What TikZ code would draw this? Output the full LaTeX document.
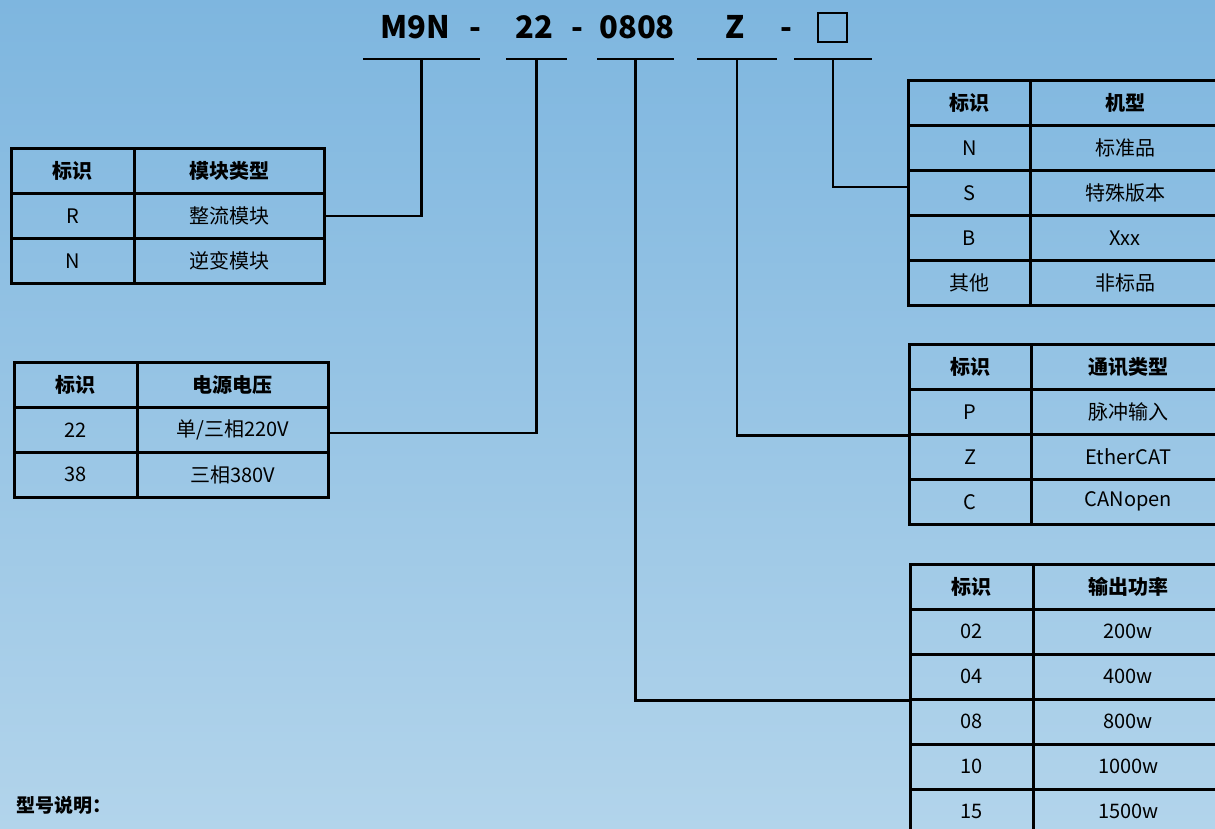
\documentclass[tikz,border=0pt]{standalone}
\usepackage{fontspec}
\setmainfont{Noto Sans CJK SC}
\definecolor{bgtop}{RGB}{126,182,223}
\definecolor{bgbot}{RGB}{178,212,235}

\def\rowh{45}

\begin{document}
\begin{tikzpicture}[
    x=1pt,y=-1pt,
    cell/.style={draw=black,line width=2.6pt,minimum height=\rowh,inner sep=0pt,
                 anchor=north west,font=\fontsize{20}{20}\selectfont},
    head/.style={cell,font=\fontsize{20}{20}\selectfont\bfseries},
    code/.style={font=\fontsize{31}{31}\selectfont\bfseries,inner sep=0pt,anchor=base},
    bar/.style={line width=2.6pt},
    link/.style={line width=2.4pt},
]
\useasboundingbox (0,0) rectangle (1215,828);
\shade[top color=bgtop,bottom color=bgbot] (0,0) rectangle (1215,828);

% model code
\node[code] (series) at (415,38) {M9N};
\node[code] (dash1) at (475,38) {-};
\node[code] (volt) at (534,38) {22};
\node[code] (dash2) at (577,38) {-};
\node[code] (power) at (637,38) {0808};
\node[code] (bus) at (735,38) {Z};
\node[code] (dash3) at (786,38) {-};
\node[draw,line width=2pt,minimum size=29,inner sep=0pt] (custom) at (832,27) {};

\draw[bar] (363,59) -- coordinate[pos=0.5] (u-series) (480,59);
\draw[bar] (506,59) -- coordinate[pos=0.5] (u-volt) (567,59);
\draw[bar] (597,59) -- coordinate[pos=0.5] (u-power) (674,59);
\draw[bar] (697,59) -- coordinate[pos=0.5] (u-bus) (777,59);
\draw[bar] (794,59) -- coordinate[pos=0.5] (u-custom) (872,59);

% module type
\node[head,minimum width=123] (type-k0) at (10,147) {标识};
\node[head,minimum width=190] (type-v0) at (133,147) {模块类型};
\foreach \k/\v [count=\i] in {R/整流模块,N/逆变模块}{
  \node[cell,minimum width=123] (type-k\i) at (10,147+\rowh*\i) {\k};
  \node[cell,minimum width=190] (type-v\i) at (133,147+\rowh*\i) {\v};
}

% supply voltage
\node[head,minimum width=123] (volt-k0) at (13,361) {标识};
\node[head,minimum width=191] (volt-v0) at (136,361) {电源电压};
\foreach \k/\v [count=\i] in {22/{单/三相220V},38/三相380V}{
  \node[cell,minimum width=123] (volt-k\i) at (13,361+\rowh*\i) {\k};
  \node[cell,minimum width=191] (volt-v\i) at (136,361+\rowh*\i) {\v};
}

% version
\node[head,minimum width=122] (model-k0) at (907,79) {标识};
\node[head,minimum width=190] (model-v0) at (1029,79) {机型};
\foreach \k/\v [count=\i] in {N/标准品,S/特殊版本,B/Xxx,其他/非标品}{
  \node[cell,minimum width=122] (model-k\i) at (907,79+\rowh*\i) {\k};
  \node[cell,minimum width=190] (model-v\i) at (1029,79+\rowh*\i) {\v};
}

% bus type
\node[head,minimum width=122] (comm-k0) at (908,343) {标识};
\node[head,minimum width=194] (comm-v0) at (1030,343) {通讯类型};
\foreach \k/\v [count=\i] in {P/脉冲输入,Z/EtherCAT,C/CANopen}{
  \node[cell,minimum width=122] (comm-k\i) at (908,343+\rowh*\i) {\k};
  \node[cell,minimum width=194] (comm-v\i) at (1030,343+\rowh*\i) {\v};
}

% output power
\node[head,minimum width=123] (pow-k0) at (909,563) {标识};
\node[head,minimum width=190] (pow-v0) at (1032,563) {输出功率};
\foreach \k/\v [count=\i] in {02/200w,04/400w,08/800w,10/1000w,15/1500w}{
  \node[cell,minimum width=123] (pow-k\i) at (909,563+\rowh*\i) {\k};
  \node[cell,minimum width=190] (pow-v\i) at (1032,563+\rowh*\i) {\v};
}

% links
\draw[link] (type-v1.east) -| (u-series);
\draw[link] ([yshift=-3]volt-v1.east) -| (u-volt);
\draw[link] (u-power) |- (pow-k2.south west);
\draw[link] (u-bus) |- (comm-k1.south west);
\draw[link] (u-custom) |- ([yshift=6]model-k2.west);

\node[font=\fontsize{19}{19}\selectfont\bfseries,anchor=west,inner sep=0pt] (note) at (16,805) {型号说明：};

\end{tikzpicture}
\end{document}
